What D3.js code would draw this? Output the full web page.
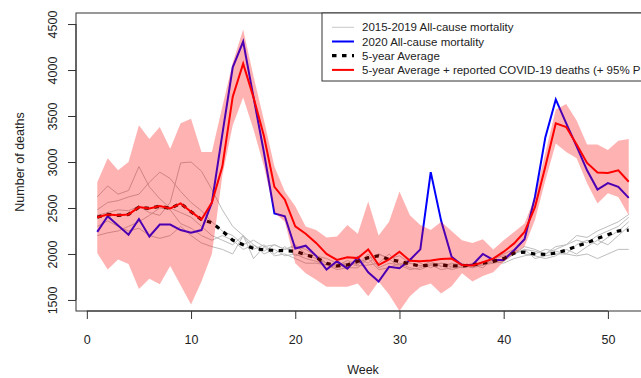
<html>
<meta charset="utf-8"></meta>
<script src="https://cdn.jsdelivr.net/npm/d3@7"></script>
<style>
body{margin:0;background:#fff;}
text{font-family:"Liberation Sans",Arial,sans-serif;fill:#222;}
</style>
<body onload="load();">
<svg id="idSvg001"></svg>
<script type="text/javascript">
// weeks 1..52
var weeks = d3.range(1, 53);

// 2015-2019 all-cause mortality (grey lines)
var y2015 = [2620,2740,2650,2690,2950,2730,2600,2500,2450,2400,2300,2200,
	2150,2100,2200,2050,2100,2000,2080,1980,2000,1950,1900,1870,1930,1880,
	2000,1850,1900,1880,1830,1850,1900,1870,1830,1860,1900,1880,1950,2000,
	2050,2000,1980,1950,1980,2050,2000,2080,2150,2100,2200,2300];
var y2016 = [2480,2560,2580,2620,2650,2780,2890,2820,2680,2560,2470,2350,
	2250,2200,2100,2150,2080,2100,2050,2100,2000,1980,1950,1900,1870,1950,
	1900,2000,1950,1850,1900,1870,1920,1860,1900,1880,1850,1920,1900,1950,
	2000,2080,2050,2000,2080,2100,2150,2120,2200,2250,2300,2400];
var y2017 = [2420,2450,2480,2470,2520,2450,2420,2560,2990,3000,2900,2700,
	2480,2300,2200,2100,2000,2050,1980,2000,1950,1920,1880,1850,1900,1870,
	1880,1900,2000,1880,1950,1900,1850,1900,1880,1850,1870,1880,1920,1900,
	1950,1980,2000,2050,2030,2000,2100,2150,2100,2180,2250,2350];
var y2018 = [2300,2360,2300,2250,2280,2200,2170,2200,2300,2200,2120,2080,
	2050,2000,2200,1950,2080,1980,2000,1950,1900,1900,1880,1830,1850,1850,
	1950,1830,1850,1900,1850,1830,1880,1830,1850,1900,1850,1880,1900,1920,
	2000,2050,1950,1980,2000,2000,1980,2000,1950,2000,2050,2050];
var y2019 = [2200,2230,2250,2300,2350,2420,2500,2480,2330,2280,2200,2150,
	2200,2150,2050,2100,2030,2100,2050,2080,2050,1980,1900,1880,1900,1900,
	1950,2000,1950,1980,1900,1870,1880,1900,1860,1870,1880,1850,1950,1980,
	2000,2050,2030,2000,2050,2100,2200,2180,2250,2300,2350,2430];

// 2020 all-cause mortality (blue)
var y2020 = [2240,2410,2310,2210,2380,2190,2320,2320,2260,2230,2260,2560,
	3300,4030,4310,3700,3100,2440,2410,2060,2090,1980,1830,1920,1840,1960,
	1800,1700,1860,1845,1935,2050,2890,2360,1970,1880,1880,2000,1935,1935,
	2040,2160,2620,3270,3680,3420,3170,2910,2700,2770,2730,2610];

// 5-year average (black dotted)
var avg5 = [2400,2430,2420,2430,2510,2495,2520,2495,2550,2460,2375,2340,
	2250,2150,2100,2060,2045,2040,2035,2030,1990,1960,1900,1870,1880,1920,
	1960,1980,1940,1920,1890,1870,1880,1880,1870,1870,1880,1900,1920,1950,
	2010,2020,2000,1995,2010,2040,2085,2120,2170,2210,2250,2260];

// 5-year average + reported COVID-19 deaths (red) with 95% PI
var avgCovid = [2400,2430,2420,2430,2510,2495,2520,2495,2550,2460,2375,2560,
	2950,3710,4070,3700,3280,2730,2590,2300,2220,2120,2000,1935,1965,1955,
	2050,1880,1940,2025,1925,1920,1930,1945,1950,1880,1875,1910,1950,2025,
	2115,2240,2510,2950,3420,3380,3190,2990,2885,2880,2910,2785];
var piUpper = [2780,3040,2910,3000,3400,3250,3380,3145,3420,3470,3110,3110,
	3600,4080,4440,3930,3450,2950,2680,2520,2300,2260,2180,2190,2315,2220,
	2570,2200,2350,2680,2420,2315,2260,2350,2250,2150,2120,2160,2050,2150,
	2240,2330,2620,3100,3570,3630,3450,3190,3190,3130,3230,3250];
var piLower = [2010,1830,1940,1890,1620,1730,1670,1870,1660,1450,1700,2000,
	2850,3400,3700,3350,2950,2450,2350,1900,1790,1720,1645,1645,1645,1680,
	1540,1700,1560,1380,1540,1640,1680,1570,1650,1790,1700,1760,1800,1915,
	2000,2080,2370,2800,3200,3110,3040,2770,2550,2660,2620,2420];

var xTicks = [0,10,20,30,40,50];
var yTicks = [1500,2000,2500,3000,3500,4000,4500];
var legendLabels = ["2015-2019 All-cause mortality","2020 All-cause mortality",
	"5-year Average","5-year Average + reported COVID-19 deaths (+ 95% PI)"];

var width = 641, height = 378;
var pL = 76, pR = 650, pT = 13, pB = 311;
var x, y;

function init(){
	d3.select("#idSvg001").attr("width", width).attr("height", height);
	x = d3.scaleLinear().domain([-1.04, 54.04]).range([pL, pR]);
	y = d3.scaleLinear().domain([1380, 4620]).range([pB, pT]);
}
function load(){
	init();
	draw();
}
function draw(){
	var svg = d3.select("#idSvg001");
	svg.append("defs").append("clipPath").attr("id", "clip")
		.append("rect").attr("x", pL).attr("y", pT)
		.attr("width", pR - pL).attr("height", pB - pT);

	var g = svg.append("g").attr("clip-path", "url(#clip)");
	var line = function(vals){
		return d3.line().x(function(d, i){ return x(weeks[i]); })
			.y(function(d){ return y(d); })(vals);
	};

	[y2015, y2016, y2017, y2018, y2019].forEach(function(s){
		g.append("path").attr("d", line(s)).attr("fill", "none")
			.attr("stroke", "#bdbdbd").attr("stroke-width", 1);
	});
	g.append("path").attr("d", line(y2020)).attr("fill", "none")
		.attr("stroke", "#0000ff").attr("stroke-width", 2);
	g.append("path").attr("d", line(avg5)).attr("fill", "none")
		.attr("stroke", "#000").attr("stroke-width", 3.2)
		.attr("stroke-dasharray", "4.5,5.5");

	var area = d3.area().x(function(d, i){ return x(weeks[i]); })
		.y0(function(d, i){ return y(piLower[i]); })
		.y1(function(d){ return y(d); });
	g.append("path").attr("d", area(piUpper))
		.attr("fill", "rgba(255,0,0,0.3)").attr("stroke", "none");

	g.append("path").attr("d", line(avgCovid)).attr("fill", "none")
		.attr("stroke", "#ff0000").attr("stroke-width", 2);

	// box
	svg.append("rect").attr("x", pL).attr("y", pT)
		.attr("width", pR - pL).attr("height", pB - pT)
		.attr("fill", "none").attr("stroke", "#333").attr("stroke-width", 1);

	// axes (R style)
	var ax = svg.append("g").attr("transform", "translate(0," + pB + ")")
		.call(d3.axisBottom(x).tickValues(xTicks).tickSize(8).tickPadding(16));
	var ay = svg.append("g").attr("transform", "translate(" + pL + ",0)")
		.call(d3.axisLeft(y).tickValues(yTicks).tickSize(8).tickFormat(d3.format("d")));
	[ax, ay].forEach(function(a){
		a.select(".domain").attr("stroke", "#333");
		a.selectAll(".tick line").attr("stroke", "#333");
		a.selectAll("text").style("font-size", "12.5px")
			.style("font-family", '"Liberation Sans",Arial,sans-serif').attr("fill", "#222");
	});
	ax.select(".domain").attr("d", "M" + x(0) + ",0H" + x(50));
	ay.select(".domain").attr("d", "M0," + y(1500) + "V" + y(4500));
	ay.selectAll(".tick text").attr("x", null).attr("dy", null)
		.attr("text-anchor", "middle").attr("dominant-baseline", "central")
		.attr("transform", "translate(-23,0) rotate(-90)");

	svg.append("text").attr("transform", "translate(20," + ((pT + pB) / 2) + ") rotate(-90)")
		.attr("text-anchor", "middle").attr("dominant-baseline", "central")
		.style("font-size", "12.5px").text("Number of deaths");
	svg.append("text").attr("x", (pL + pR) / 2).attr("y", 370)
		.attr("text-anchor", "middle").attr("dominant-baseline", "central")
		.style("font-size", "12.5px").text("Week");

	// legend
	var lg = svg.append("g");
	lg.append("rect").attr("x", 322).attr("y", pT).attr("width", pR - 322).attr("height", 68)
		.attr("fill", "#fff").attr("stroke", "#333").attr("stroke-width", 1);
	var styles = [
		{c:"#c8c8c8", w:1, d:null},
		{c:"#0000ff", w:2, d:null},
		{c:"#000", w:3.2, d:"4.5,5.5"},
		{c:"#ff0000", w:2, d:null}
	];
	legendLabels.forEach(function(t, i){
		var ly = 27.3 + i * 14.2;
		var l = lg.append("line").attr("x1", 332).attr("x2", 354).attr("y1", ly).attr("y2", ly)
			.attr("stroke", styles[i].c).attr("stroke-width", styles[i].w);
		if(styles[i].d){ l.attr("stroke-dasharray", styles[i].d); }
		lg.append("text").attr("x", 362).attr("y", ly).attr("dominant-baseline", "central")
			.style("font-size", "11.5px").text(t);
	});
}
</script>
</body>
</html>
